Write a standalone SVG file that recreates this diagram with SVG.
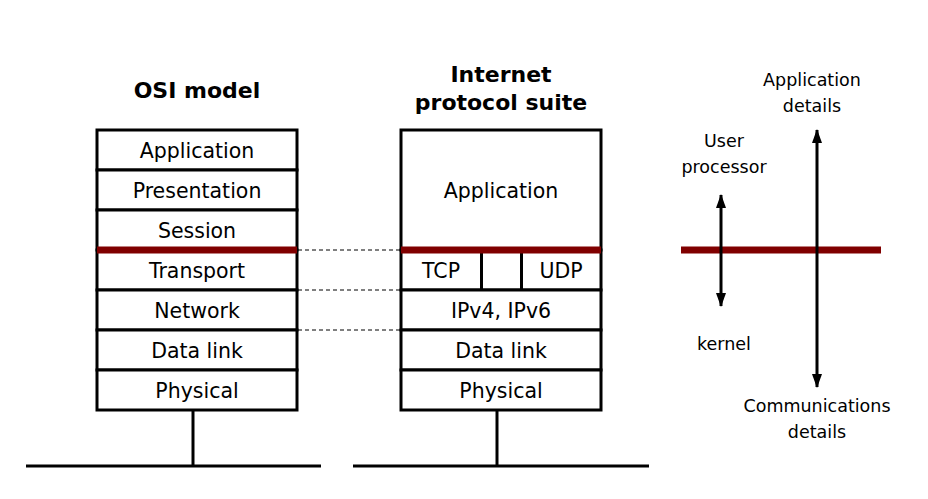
<svg xmlns="http://www.w3.org/2000/svg" width="928" height="499" viewBox="0 0 928 499">
<style>
.box{fill:#fff;stroke:#000;stroke-width:3}
.ln{stroke:#000;stroke-width:3;fill:none}
.red{stroke:#800000;stroke-width:7}
.dash{stroke:#000;stroke-width:1;stroke-dasharray:4 3}
text{font-family:"DejaVu Sans",Verdana,sans-serif;fill:#000;text-anchor:middle}
.t{font-size:20.5px}
.s{font-size:17.5px}
.b{font-size:22px;font-weight:bold}
</style>
<defs>
<marker id="ah" viewBox="0 0 14 10" refX="13" refY="5" markerWidth="14" markerHeight="10" markerUnits="userSpaceOnUse" orient="auto-start-reverse">
<path d="M0,0 L14,5 L0,10 Z" fill="#000"/>
</marker>
</defs>
<rect width="928" height="499" fill="#fff"/>
<g id="titles">
<text class="b" x="197" y="98">OSI model</text>
<text class="b" x="501" y="82">Internet</text>
<text class="b" x="501" y="110">protocol suite</text>
</g>
<g id="connectors">
<line class="dash" x1="298" y1="250" x2="401" y2="250"/>
<line class="dash" x1="298" y1="290" x2="401" y2="290"/>
<line class="dash" x1="298" y1="330" x2="401" y2="330"/>
<line class="ln" x1="193" y1="410" x2="193" y2="466"/>
<line class="ln" x1="26" y1="466" x2="321" y2="466"/>
<line class="ln" x1="497" y1="410" x2="497" y2="466"/>
<line class="ln" x1="353" y1="466" x2="649" y2="466"/>
</g>
<g id="osi">
<rect class="box" x="97" y="130" width="200" height="40"/>
<rect class="box" x="97" y="170" width="200" height="40"/>
<rect class="box" x="97" y="210" width="200" height="40"/>
<rect class="box" x="97" y="250" width="200" height="40"/>
<rect class="box" x="97" y="290" width="200" height="40"/>
<rect class="box" x="97" y="330" width="200" height="40"/>
<rect class="box" x="97" y="370" width="200" height="40"/>
<line class="red" x1="97" y1="250" x2="297" y2="250"/>
<text class="t" x="197" y="158">Application</text>
<text class="t" x="197" y="198">Presentation</text>
<text class="t" x="197" y="238">Session</text>
<text class="t" x="197" y="278">Transport</text>
<text class="t" x="197" y="318">Network</text>
<text class="t" x="197" y="358">Data link</text>
<text class="t" x="197" y="398">Physical</text>
</g>
<g id="tcpip">
<rect class="box" x="401" y="130" width="200" height="120"/>
<rect class="box" x="401" y="250" width="200" height="40"/>
<line class="ln" x1="481.5" y1="250" x2="481.5" y2="290"/>
<line class="ln" x1="521.5" y1="250" x2="521.5" y2="290"/>
<rect class="box" x="401" y="290" width="200" height="40"/>
<rect class="box" x="401" y="330" width="200" height="40"/>
<rect class="box" x="401" y="370" width="200" height="40"/>
<line class="red" x1="401" y1="250" x2="601" y2="250"/>
<text class="t" x="501" y="198">Application</text>
<text class="t" x="441" y="278">TCP</text>
<text class="t" x="561" y="278">UDP</text>
<text class="t" x="501" y="318">IPv4, IPv6</text>
<text class="t" x="501" y="358">Data link</text>
<text class="t" x="501" y="398">Physical</text>
</g>
<g id="side">
<line class="red" x1="681" y1="250" x2="881" y2="250"/>
<line class="ln" x1="721" y1="195" x2="721" y2="306" marker-start="url(#ah)" marker-end="url(#ah)"/>
<line class="ln" x1="817" y1="130" x2="817" y2="387" marker-start="url(#ah)" marker-end="url(#ah)"/>
<text class="s" x="812" y="86">Application</text>
<text class="s" x="812" y="112">details</text>
<text class="s" x="724" y="147">User</text>
<text class="s" x="724" y="173">processor</text>
<text class="s" x="724" y="350">kernel</text>
<text class="s" x="817" y="412">Communications</text>
<text class="s" x="817" y="438">details</text>
</g>
</svg>
